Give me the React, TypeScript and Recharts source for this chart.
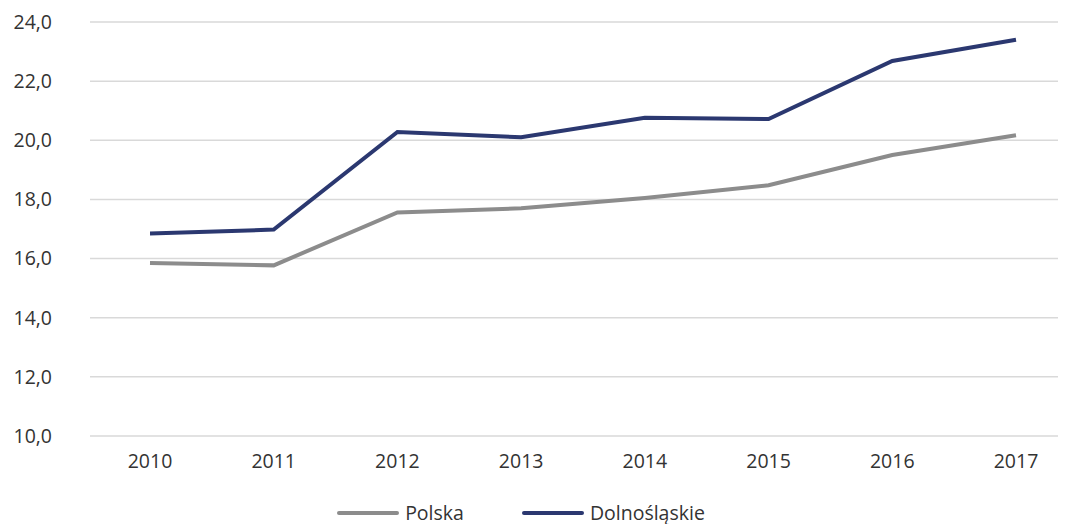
import { LineChart, Line, XAxis, YAxis, CartesianGrid, Legend } from 'recharts';

const years = ['2010', '2011', '2012', '2013', '2014', '2015', '2016', '2017'];
const polska = [15.85, 15.77, 17.56, 17.7, 18.05, 18.48, 19.5, 20.17];
const dolnoslaskie = [16.85, 16.98, 20.28, 20.1, 20.76, 20.72, 22.68, 23.4];
const yTicks = [10, 12, 14, 16, 18, 20, 22, 24];

const GREY = '#8c8c8c';
const NAVY = '#2b3870';
const TEXT = '#333333';
const FONT = '"Open Sans", sans-serif';
const FS = 19.5;

const data = years.map((year, i) => ({
  year,
  Polska: polska[i],
  'Dolnośląskie': dolnoslaskie[i],
}));

function LegendBox() {
  const items = [
    { name: 'Polska', color: GREY },
    { name: 'Dolnośląskie', color: NAVY },
  ];
  return (
    <div style={{ display: 'flex', justifyContent: 'center', alignItems: 'center', height: 22, gap: 58, paddingRight: 24, overflow: 'visible' }}>
      {items.map(it => (
        <div key={it.name} style={{ display: 'flex', alignItems: 'center', height: 22 }}>
          <span style={{ display: 'inline-block', width: 62, height: 4, borderRadius: 2, background: it.color, marginRight: 6 }} />
          <span style={{ fontFamily: FONT, fontSize: FS, lineHeight: '22px', color: TEXT, whiteSpace: 'nowrap' }}>{it.name}</span>
        </div>
      ))}
    </div>
  );
}

export default function App() {
  return (
    <div style={{ margin: '-8px -8px 0 -8px', width: 1066, height: 524, background: '#fff' }}>
      <LineChart width={1066} height={524} data={data} margin={{ top: 22, right: 0, left: 0, bottom: 0 }}>
        <CartesianGrid vertical={false} stroke="#d9d9d9" strokeWidth={1.5} />
        <XAxis
          dataKey="year"
          scale="point"
          padding={{ left: 60, right: 50 }}
          height={66}
          axisLine={false}
          tickLine={false}
          tickSize={0}
          tickMargin={18}
          tick={{ fill: TEXT, fontSize: FS, fontFamily: FONT }}
        />
        <YAxis
          domain={[10, 24]}
          ticks={yTicks}
          width={90}
          axisLine={false}
          tickLine={false}
          tickSize={0}
          tickMargin={38}
          tickFormatter={(v) => Number(v).toFixed(1).replace('.', ',')}
          tick={{ fill: TEXT, fontSize: FS, fontFamily: FONT }}
        />
        <Legend verticalAlign="bottom" height={22} content={() => <LegendBox />} />
        <Line type="linear" dataKey="Polska" stroke={GREY} strokeWidth={4} dot={false} isAnimationActive={false} />
        <Line type="linear" dataKey="Dolnośląskie" stroke={NAVY} strokeWidth={4} dot={false} isAnimationActive={false} />
      </LineChart>
    </div>
  );
}
